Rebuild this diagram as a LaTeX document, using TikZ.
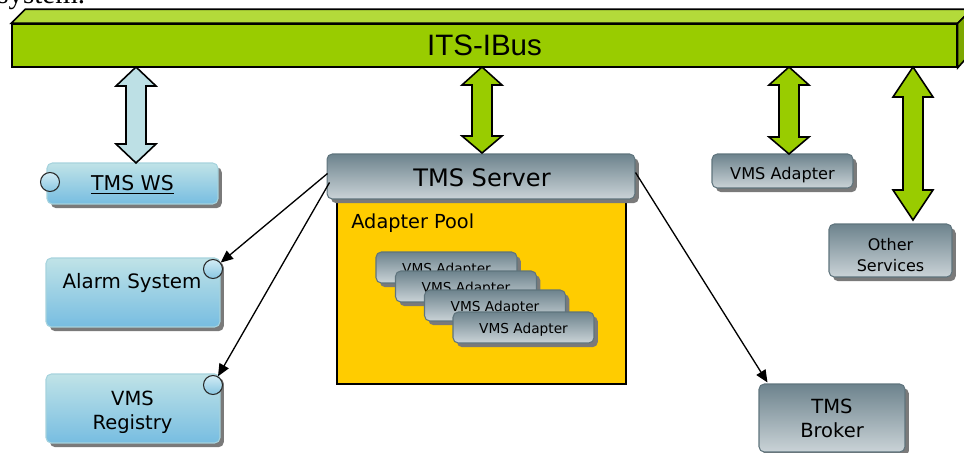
\documentclass[tikz,border=0pt]{standalone}
\usepackage{fontspec}
\setmainfont{DejaVu Sans}
\newfontfamily\busfont{Liberation Sans}
\newfontfamily\serifnt{Liberation Serif}
\usetikzlibrary{shadows,arrows.meta,calc}
\definecolor{busgreen}{HTML}{99CC00}
\definecolor{bustop}{HTML}{B3DA3A}
\definecolor{busside}{HTML}{7DA800}
\definecolor{bluetop}{HTML}{C0E3E7}
\definecolor{bluebot}{HTML}{77BDE1}
\definecolor{blueedge}{HTML}{A6D3DD}
\definecolor{graytop}{HTML}{6D838D}
\definecolor{graybot}{HTML}{CAD3D7}
\definecolor{grayedge}{HTML}{5F747D}
\definecolor{shadowgray}{HTML}{7A7A7A}
\definecolor{poolyellow}{HTML}{FFCC00}
\definecolor{arrowblue}{HTML}{BDE0E5}
\definecolor{circtop}{HTML}{D2ECF4}
\definecolor{circbot}{HTML}{88C6E2}
\tikzset{
  boxbase/.style={rounded corners=3pt, inner sep=0pt,
    drop shadow={shadow xshift=2.2pt, shadow yshift=-2.4pt, fill=shadowgray, opacity=1}},
  bluebox/.style={boxbase, draw=blueedge, line width=0.6pt, top color=bluetop, bottom color=bluebot},
  graybox/.style={boxbase, draw=grayedge, line width=0.6pt, top color=graytop, bottom color=graybot},
  port/.style={circle, draw=black!85, line width=0.6pt, minimum size=0.38cm, inner sep=0pt,
    top color=circtop, bottom color=circbot},
  blockarrow/.style={draw=black, line width=0.9pt, line join=miter},
  link/.style={-{Triangle[length=7pt,width=6pt]}, line width=0.75pt, draw=black},
  txt/.style={inner sep=0pt, anchor=base, font=\fontsize{#1}{#1}\selectfont},
  txtl/.style={inner sep=0pt, anchor=base west, font=\fontsize{#1}{#1}\selectfont},
}
\newcommand\blockdbl[5]{%
  \filldraw[blockarrow, fill=#5] (#1) -- ++(20,#3) -- ++(-10,0) -- ($(#2)+(10,-#4)$) -- ++(10,0)
    -- (#2) -- ++(-20,-#4) -- ++(10,0) -- ($(#1)+(-10,#3)$) -- ++(-10,0) -- cycle;}
\begin{document}
\begin{tikzpicture}[x=0.02cm,y=-0.02cm]
\useasboundingbox (0,0) rectangle (964,453);
% cut-off text at top
\node[inner sep=0pt, anchor=base west, font=\serifnt\fontsize{16.5}{19}\selectfont] (cut) at (-3,4) {system.};

% bus
\node[draw=black, line width=0.9pt, fill=busgreen, minimum width=18.9cm, minimum height=0.86cm,
  inner sep=0pt, font=\busfont\fontsize{16.8}{20}\selectfont] (bus) at (484.5,45.5) {ITS-IBus};
\filldraw[draw=black, line width=0.9pt, fill=bustop, line join=miter]
  (bus.north west) -- ++(14,-14) -- ($(bus.north east)+(14,-14)$) -- (bus.north east) -- cycle;
\filldraw[draw=black, line width=0.9pt, fill=busside, line join=miter]
  (bus.north east) -- ++(14,-14) -- ++(0,43) -- (bus.south east) -- cycle;

% left blue boxes
\node[bluebox, minimum width=3.42cm, minimum height=0.82cm] (tmsws) at (132.5,183.5) {};
\node[txt=11.6] (tmswstxt) at (132.5,190.5) {\underline{TMS WS}};
\node[port] (wsport) at (50,182) {};

\node[bluebox, minimum width=3.48cm, minimum height=1.38cm] (alarm) at (133,292.5) {};
\node[txt=11.3] (alarmtxt) at (132,288.8) {Alarm System};
\node[port] (alarmport) at (213,269) {};

\node[bluebox, minimum width=3.48cm, minimum height=1.38cm] (registry) at (133,408.5) {};
\node[txt=11.1] (regtxt1) at (132.5,405.1) {VMS};
\node[txt=11.1] (regtxt2) at (132.5,429.1) {Registry};
\node[port] (regport) at (213,385) {};

% adapter pool
\node[draw=black, line width=0.9pt, fill=poolyellow, minimum width=5.78cm, minimum height=3.7cm,
  inner sep=0pt] (pool) at (481.5,291.5) {};
\node[txtl=11] (pooltxt) at (351,228.6) {Adapter Pool};

\node[graybox, minimum width=2.82cm, minimum height=0.62cm] (ad1) at (446.5,267.5) {};
\node[txt=7.8] (ad1txt) at (446.5,273) {VMS Adapter};
\node[graybox, minimum width=2.82cm, minimum height=0.62cm] (ad2) at (466,286.5) {};
\node[txt=7.8] (ad2txt) at (466,292) {VMS Adapter};
\node[graybox, minimum width=2.82cm, minimum height=0.62cm] (ad3) at (495,305.5) {};
\node[txt=7.8] (ad3txt) at (495,311) {VMS Adapter};
\node[graybox, minimum width=2.82cm, minimum height=0.62cm] (ad4) at (523.5,327.5) {};
\node[txt=7.8] (ad4txt) at (523.5,333.5) {VMS Adapter};

% server
\node[graybox, minimum width=6.16cm, minimum height=0.9cm] (server) at (481,176.5) {};
\node[txt=13.7] (servertxt) at (482,186.8) {TMS Server};

% right gray boxes
\node[graybox, minimum width=2.82cm, minimum height=0.68cm] (vmsad) at (782.5,171) {};
\node[txt=9.2] (vmsadtxt) at (782.5,179.9) {VMS Adapter};
\node[graybox, minimum width=2.46cm, minimum height=1.06cm] (other) at (890.5,250.5) {};
\node[txt=9.1] (othertxt1) at (890.5,250.9) {Other};
\node[txt=9.1] (othertxt2) at (890.5,271.9) {Services};
\node[graybox, minimum width=2.92cm, minimum height=1.36cm] (broker) at (832,418) {};
\node[txt=11.1] (brokertxt1) at (832,413.6) {TMS};
\node[txt=11.1] (brokertxt2) at (832,437.6) {Broker};

% block arrows
\coordinate (a1t) at (136,67);  \coordinate (a1b) at (136,163);
\coordinate (a2t) at (482,67);  \coordinate (a2b) at (482,153);
\coordinate (a3t) at (789,67);  \coordinate (a3b) at (789,154);
\coordinate (a4t) at (913,67);  \coordinate (a4b) at (913,220);
\blockdbl{a1t}{a1b}{19}{19}{arrowblue}
\blockdbl{a2t}{a2b}{18}{17}{busgreen}
\blockdbl{a3t}{a3b}{18}{17}{busgreen}
\blockdbl{a4t}{a4b}{30}{30}{busgreen}

% links
\coordinate (s1) at ($(server.west)+(1,-3)$);
\coordinate (s2) at ($(server.west)+(3,6)$);
\coordinate (s3) at ($(server.east)+(0,-4)$);
\coordinate (brokerin) at ($(broker.north west)+(9,-1)$);
\draw[link] (s1) -- (alarmport);
\draw[link] (s2) -- (regport);
\draw[link] (s3) -- (brokerin);
\end{tikzpicture}
\end{document}
